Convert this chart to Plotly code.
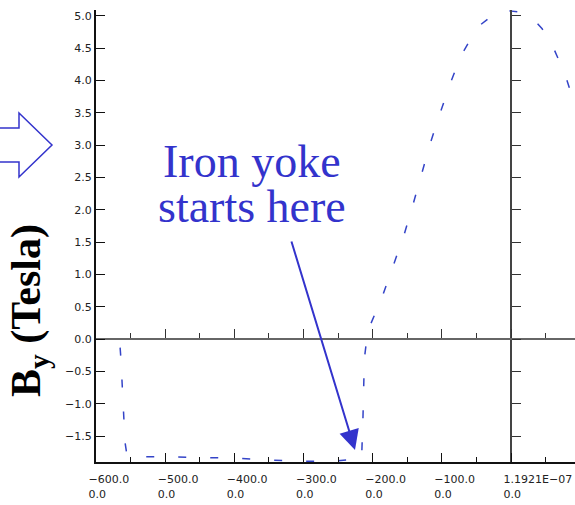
import plotly.graph_objects as go

# ---- data ----
x_mm = [-600, -566, -564, -562, -560, -558, -555, -540, -500, -450, -400, -350,
        -300, -250, -225, -216, -214, -212, -208, -203, -186, -170, -155, -142,
        -130, -117, -103, -88, -72, -60, -48, -30, -15, -5, 10, 20, 32, 45, 59,
        78, 91, 100]
by_tesla = [0.0, 0.0, -0.3, -0.7, -1.2, -1.6, -1.81, -1.82, -1.82, -1.83, -1.84,
            -1.87, -1.89, -1.88, -1.86, -1.85, -1.2, -0.3, 0.05, 0.23, 0.66, 1.13,
            1.60, 2.07, 2.53, 3.02, 3.48, 3.95, 4.39, 4.62, 4.83, 4.98, 5.06, 5.08,
            5.06, 5.02, 4.95, 4.80, 4.56, 4.10, 3.66, 3.40]

x_tick_vals = [-600, -500, -400, -300, -200, -100, 0]
x_tick_top = ["\u2212600.0", "\u2212500.0", "\u2212400.0", "\u2212300.0",
              "\u2212200.0", "\u2212100.0", "1.1921E\u221207"]
x_tick_bottom = ["0.0"] * 7
x_minor_vals = [-550, -450, -350, -250, -150, -50, 50]

XR = [-600, 92.5]
YR = [-1.9, 5.09]

# ---- layout geometry (pixels) ----
W_FIG, H_FIG = 575, 505
L, T, R, B = 96, 10, 0, 43
PW, PH = W_FIG - L - R, H_FIG - T - B


def px(x):
    return (x - L) / PW


def py(y):
    return (T + PH - y) / PH


BLUE = "#3333cc"
tick_text = [a + "<br>" + b for a, b in zip(x_tick_top, x_tick_bottom)]

fig = go.Figure()
fig.add_trace(go.Scatter(
    x=x_mm, y=by_tesla, mode="lines",
    line=dict(color="#3444c8", width=1.5, dash="8px,24px"),
    showlegend=False, hoverinfo="skip"))
fig.add_trace(go.Scatter(x=[None], y=[None], xaxis="x2", yaxis="y",
                         showlegend=False, hoverinfo="skip"))
fig.add_trace(go.Scatter(x=[None], y=[None], xaxis="x", yaxis="y2",
                         showlegend=False, hoverinfo="skip"))

tickfont = dict(family="DejaVu Sans", size=11, color="#222")

fig.update_layout(
    width=W_FIG, height=H_FIG,
    margin=dict(l=L, r=R, t=T, b=B, pad=0),
    paper_bgcolor="white", plot_bgcolor="white",
    xaxis=dict(range=XR, domain=[0, 1], anchor="y", showgrid=False, zeroline=False,
               showline=True, linecolor="#111", linewidth=2,
               ticks="inside", ticklen=9, tickwidth=1, tickcolor="#111",
               tickmode="array", tickvals=x_tick_vals, ticktext=tick_text,
               ticklabelposition="outside right", ticklabelshift=-9,
               ticklabelstandoff=6,
               tickfont=tickfont,
               minor=dict(tickmode="array", tickvals=x_minor_vals, ticks="inside",
                          ticklen=5, tickwidth=1, tickcolor="#111")),
    yaxis=dict(range=YR, domain=[0, 1], anchor="x", showgrid=False, zeroline=False,
               showline=True, linecolor="#111", linewidth=2,
               ticks="inside", ticklen=9, tickwidth=1, tickcolor="#111",
               dtick=0.5, tick0=0, tickformat=".1f", tickfont=tickfont),
    xaxis2=dict(range=XR, overlaying="x", anchor="free",
                position=(0 - YR[0]) / (YR[1] - YR[0]), side="bottom",
                showgrid=False, zeroline=False, showline=True,
                linecolor="#666", linewidth=2, ticks="inside", ticklen=9,
                tickwidth=1, tickcolor="#333", tickmode="array",
                tickvals=x_tick_vals, showticklabels=False,
                minor=dict(tickmode="array", tickvals=x_minor_vals, ticks="inside",
                           ticklen=5, tickwidth=1, tickcolor="#333")),
    yaxis2=dict(range=YR, overlaying="y", anchor="free",
                position=(0 - XR[0]) / (XR[1] - XR[0]), side="left",
                showgrid=False, zeroline=False, showline=True,
                linecolor="#444", linewidth=2, ticks="inside", ticklen=9,
                tickwidth=1, tickcolor="#333", dtick=0.5, tick0=0,
                showticklabels=False),
)

# Y-axis title
fig.add_annotation(xref="paper", yref="paper", x=px(29), y=py(311),
                   text="<b>B<sub>y</sub> (Tesla)</b>", textangle=-90,
                   showarrow=False, xanchor="center", yanchor="middle",
                   font=dict(family="Liberation Serif", size=42, color="black"))

# Callout text
fig.add_annotation(xref="paper", yref="paper", x=px(251.5), y=py(161),
                   text="Iron yoke", showarrow=False, xanchor="center",
                   yanchor="middle",
                   font=dict(family="Liberation Serif", size=46, color=BLUE))
fig.add_annotation(xref="paper", yref="paper", x=px(251.5), y=py(207),
                   text="starts here", showarrow=False, xanchor="center",
                   yanchor="middle",
                   font=dict(family="Liberation Serif", size=46, color=BLUE))

# Callout arrow (tip at pixel 355,450; tail at 291,240)
tip_x = (355 - L) / PW * (XR[1] - XR[0]) + XR[0]
tip_y = (T + PH - 450) / PH * (YR[1] - YR[0]) + YR[0]
fig.add_annotation(x=tip_x, y=tip_y, xref="x", yref="y", text="",
                   showarrow=True, arrowhead=2, arrowsize=2, arrowwidth=2,
                   arrowcolor=BLUE, ax=291 - 355, ay=240 - 450, standoff=0)

# Big outlined arrow on the left
pts = [(-5, 128), (19, 128), (19, 113), (52, 145), (19, 177), (19, 162), (-5, 162)]
path = "M " + " L ".join(f"{px(a):.5f},{py(b):.5f}" for a, b in pts) + " Z"
fig.add_shape(type="path", xref="paper", yref="paper", path=path,
              line=dict(color=BLUE, width=1.5), fillcolor="white", layer="above")

fig.write_html("out.html")
